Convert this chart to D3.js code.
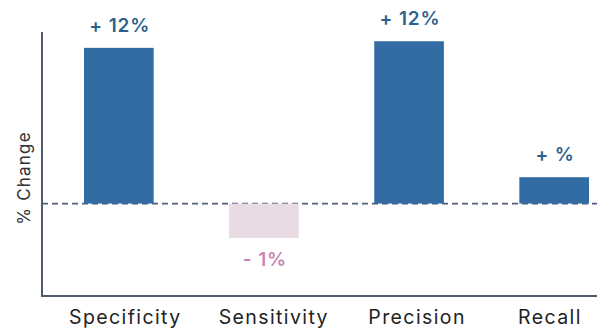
<!DOCTYPE html>
<html>
<head>
<meta charset="utf-8">
<script src="https://cdn.jsdelivr.net/npm/d3@7"></script>
<style>
  html, body { margin: 0; padding: 0; background: #fff; }
  svg { display: block; }
  .cat-label { font-family: Inter, "Open Sans", sans-serif; font-size: 19.5px; fill: #222; letter-spacing: 1.4px; }
  .bar-label { font-family: Inter, "Open Sans", sans-serif; font-size: 19px; font-weight: 600; letter-spacing: 0.9px; }
  .y-title { font-family: Inter, "Open Sans", sans-serif; font-size: 17px; fill: #333; letter-spacing: 1.2px; }
</style>
</head>
<body>
<svg id="chart" width="597" height="331"></svg>
<script>
// % change per metric (bar heights as drawn) and the text shown on each bar
const categories = ['Specificity', 'Sensitivity', 'Precision', 'Recall'];
const changes = [11.8, -2.6, 12.3, 2.0];
const changeLabels = ['+ 12%', '- 1%', '+ 12%', '+ %'];

const width = 597, height = 331;
const axisLeft = 42, axisTop = 32, axisBottom = 296;

const svg = d3.select('#chart');

const x = d3.scaleBand()
  .domain(categories)
  .range([84, 589])
  .paddingInner(0.52)
  .paddingOuter(0);

// category names sit left-aligned on an even grid of their own
const xLabel = d3.scalePoint()
  .domain(categories)
  .range([69, 518]);

const y = d3.scaleLinear()
  .domain([-7, 13])
  .range([axisBottom, axisTop]);

// zero reference line (drawn under the bars)
svg.append('line')
  .attr('x1', axisLeft)
  .attr('x2', width)
  .attr('y1', y(0))
  .attr('y2', y(0))
  .attr('stroke', '#525d78')
  .attr('stroke-width', 1.6)
  .attr('stroke-dasharray', '6,4');

svg.append('g')
  .selectAll('rect')
  .data(categories)
  .join('rect')
  .attr('x', d => x(d))
  .attr('width', x.bandwidth())
  .attr('y', (d, i) => y(Math.max(0, changes[i])))
  .attr('height', (d, i) => Math.abs(y(changes[i]) - y(0)))
  .attr('fill', (d, i) => changes[i] >= 0 ? '#336ca4' : '#e9dbe3');

svg.append('g')
  .selectAll('text')
  .data(categories)
  .join('text')
  .attr('class', 'bar-label')
  .attr('x', d => x(d) + x.bandwidth() / 2 + 1)
  .attr('y', (d, i) => changes[i] >= 0 ? y(changes[i]) - 16 : y(changes[i]) + 28)
  .attr('text-anchor', 'middle')
  .attr('fill', (d, i) => changes[i] >= 0 ? '#2f5f8f' : '#c886b2')
  .text((d, i) => changeLabels[i]);

// axes: plain left and bottom lines, category names under the bottom line
const axisColor = '#4f5a75';
svg.append('line')
  .attr('x1', axisLeft).attr('x2', axisLeft)
  .attr('y1', axisTop).attr('y2', axisBottom)
  .attr('stroke', axisColor).attr('stroke-width', 2);

svg.append('line')
  .attr('x1', axisLeft - 1).attr('x2', width)
  .attr('y1', axisBottom).attr('y2', axisBottom)
  .attr('stroke', axisColor).attr('stroke-width', 2);

svg.append('g')
  .selectAll('text')
  .data(categories)
  .join('text')
  .attr('class', 'cat-label')
  .attr('x', d => xLabel(d))
  .attr('y', 324)
  .text(d => d);

svg.append('text')
  .attr('class', 'y-title')
  .attr('transform', 'translate(30,178) rotate(-90)')
  .attr('text-anchor', 'middle')
  .text('% Change');
</script>
</body>
</html>
